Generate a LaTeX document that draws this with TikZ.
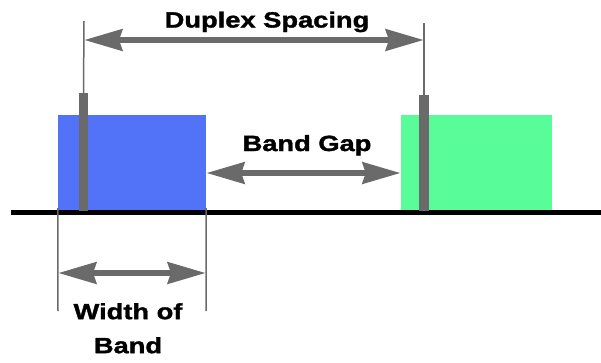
\documentclass[tikz,border=0pt]{standalone}
\usepackage{fontspec}
\newfontfamily\lbl{Liberation Sans}[FakeStretch=1.24,FakeBold=1.6]
\usetikzlibrary{arrows.meta}
\definecolor{bandblue}{RGB}{82,114,248}
\definecolor{bandgreen}{RGB}{88,252,152}
\definecolor{arrgray}{RGB}{106,106,106}
\tikzset{
  band/.style={draw=none, inner sep=0, minimum width=#1, minimum height=96pt},
  carrier/.style={draw=none, fill=arrgray, inner sep=0, minimum width=9.5pt},
  dimline/.style={draw=arrgray, line width=1.5pt},
  dimarrow/.style={draw=arrgray, line width=6.5pt, {Stealth[length=38pt,width=21pt,inset=3pt,fill=arrgray]}-{Stealth[length=38pt,width=21pt,inset=3pt,fill=arrgray]}},
  axis/.style={draw=black, line width=5pt},
  lbl/.style={inner sep=0, font=\lbl\bfseries\fontsize{22}{34}\selectfont, text=black}
}
\begin{document}
\begin{tikzpicture}[x=1pt,y=-1pt]
\useasboundingbox (0,0) rectangle (601,362);
% bands
\node[band=148pt, fill=bandblue] (b1) at (132,163) {};
\node[band=151pt, fill=bandgreen] (b2) at (476.5,163) {};
% axis
\coordinate (axL) at (11,212.5);
\coordinate (axR) at (601,212.5);
\draw[axis] (axL) -- (axR);
% carriers
\node[carrier, minimum height=118pt] (c1) at (83.5,152) {};
\node[carrier, minimum height=116pt] (c2) at (424,153) {};
% duplex spacing
\coordinate (d1) at (84,21);
\coordinate (d2) at (424,23);
\draw[dimline] (d1) -- (c1.north);
\draw[dimline] (d2) -- (c2.north);
\coordinate (da) at (84,40);
\coordinate (db) at (424,40);
\draw[dimarrow] (da) -- (db);
\node[lbl, anchor=base] (tds) at (267,27.5) {Duplex Spacing};
% band gap
\coordinate (ga) at (b1.east |- 0,173);
\coordinate (gb) at (b2.west |- 0,173);
\draw[dimarrow] (ga) -- (gb);
\node[lbl, anchor=base] (tbg) at (307,151) {Band Gap};
% width of band
\coordinate (w1t) at (b1.south west);
\coordinate (w2t) at (b1.south east);
\coordinate (w1b) at (58,311);
\coordinate (w2b) at (206,311);
\draw[dimline] ([yshift=3pt]w1t) -- (w1b);
\draw[dimline] ([yshift=3pt]w2t) -- (w2b);
\coordinate (wa) at (58,273);
\coordinate (wb) at (206,273);
\draw[dimarrow] (wa) -- (wb);
\node[lbl, align=center, anchor=north] (twb) at (128,303) {Width of\\Band};
\end{tikzpicture}
\end{document}
